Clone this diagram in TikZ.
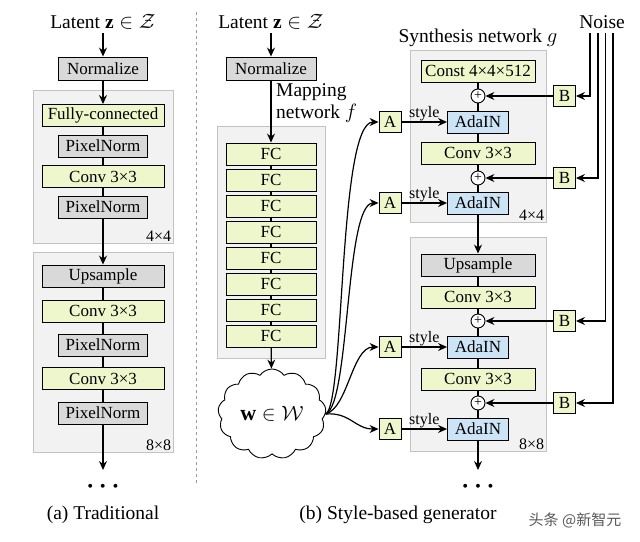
\documentclass[tikz,border=0pt]{standalone}
\usepackage{fontspec}
\setmainfont{Liberation Serif}
\newfontfamily\cjk{Noto Sans CJK SC}
\usetikzlibrary{arrows.meta,shapes.symbols}
\definecolor{boxgreen}{RGB}{238,246,204}
\definecolor{boxgray}{RGB}{217,217,217}
\definecolor{boxblue}{RGB}{204,228,246}
\definecolor{blockfill}{RGB}{242,242,242}
\definecolor{blockline}{RGB}{195,195,195}
\begin{document}
\begin{tikzpicture}[x=1pt,y=-1pt,font=\fontsize{17}{21}\selectfont]
\tikzstyle{block} = [fill=blockfill,draw=blockline,line width=0.8,inner sep=0];
\tikzstyle{layer} = [fill=boxgreen,draw,line width=0.9,inner sep=0,minimum height=22];
\tikzstyle{norm} = [fill=boxgray,draw,line width=0.9,inner sep=0,minimum height=22];
\tikzstyle{ada} = [fill=boxblue,draw,line width=0.9,inner sep=0,minimum width=61,minimum height=22];
\tikzstyle{tiny} = [fill=boxgreen,draw,line width=0.9,inner sep=0,minimum width=22,minimum height=21];
\tikzstyle{add} = [circle,draw,fill=white,line width=0.9,inner sep=0,minimum size=14,font=\fontsize{14}{14}\selectfont];
\tikzstyle{res} = [font=\fontsize{16}{18}\selectfont,anchor=south east,inner sep=2];
\tikzstyle{lbl} = [font=\fontsize{16}{18}\selectfont,above,inner sep=0.5];
\tikzstyle{ttl} = [font=\fontsize{19.5}{22}\selectfont];
\tikzstyle{more} = [font=\fontsize{24}{24}\selectfont\boldmath];
\tikzstyle{arr} = [line width=1.2,-{Stealth[length=9pt,width=8pt,inset=3pt]}];
\tikzstyle{ln} = [line width=1.2];
\useasboundingbox (0,0) rectangle (640,541);

% (a) traditional
\node [ttl] (lat1) at (103,22) {Latent $\mathbf{z}\in\mathcal{Z}$};
\node [norm,minimum width=89,minimum height=23] (nrm1) at (103,68.5) {Normalize};
\node [block,minimum width=140,minimum height=153] (blk1) at (103,166.5) {};
\node [res] (res1) at (blk1.south east) {4×4};
\node [layer,minimum width=122] (fcl) at (103,115.5) {Fully-connected};
\node [norm,minimum width=89] (pn1) at (103,146) {PixelNorm};
\node [layer,minimum width=122] (cv1) at (103,176.5) {Conv 3×3};
\node [norm,minimum width=89] (pn2) at (103,207) {PixelNorm};
\node [block,minimum width=140,minimum height=200] (blk2) at (103,352) {};
\node [res] (res2) at (blk2.south east) {8×8};
\node [norm,minimum width=122] (up1) at (103,276) {Upsample};
\node [layer,minimum width=122] (cv2) at (103,311) {Conv 3×3};
\node [norm,minimum width=89] (pn3) at (103,345) {PixelNorm};
\node [layer,minimum width=122] (cv3) at (103,378.5) {Conv 3×3};
\node [norm,minimum width=89] (pn4) at (103,413) {PixelNorm};
\coordinate (end1) at (103,470);
\node [more] (dots1) at (103,487) {$\cdots$};
\node [ttl] (cap1) at (103,515) {(a) Traditional};

\draw [arr] (lat1) -- (nrm1);
\draw [arr] (nrm1) -- (fcl);
\draw [ln] (fcl) -- (pn1) -- (cv1) -- (pn2);
\draw [arr] (pn2) -- (up1);
\draw [ln] (up1) -- (cv2) -- (pn3) -- (cv3) -- (pn4);
\draw [arr] (pn4) -- (end1);

\draw [dashed,color=black!40,line width=0.8] (196,12) -- (196,485);

% (b) style-based generator, mapping network
\node [ttl] (lat2) at (271,22) {Latent $\mathbf{z}\in\mathcal{Z}$};
\node [norm,minimum width=90,minimum height=23] (nrm2) at (271,68.5) {Normalize};
\node [ttl,anchor=west,align=left,inner sep=0] (mapl) at (276,103) {Mapping\\network $f$};
\node [block,minimum width=108,minimum height=232] (blk3) at (271,242) {};
\node [layer,minimum width=90] (fc1) at (271,154) {FC};
\node [layer,minimum width=90] (fc2) at (271,180) {FC};
\node [layer,minimum width=90] (fc3) at (271,206) {FC};
\node [layer,minimum width=90] (fc4) at (271,232) {FC};
\node [layer,minimum width=90] (fc5) at (271,258) {FC};
\node [layer,minimum width=90] (fc6) at (271,284) {FC};
\node [layer,minimum width=90] (fc7) at (271,310) {FC};
\node [layer,minimum width=90] (fc8) at (271,336) {FC};
\node [cloud,draw,fill=white,line width=0.9,cloud puffs=13,cloud puff arc=110,cloud ignores aspect,minimum width=108,minimum height=90,font=\fontsize{22}{24}\selectfont] (w) at (272,414) {$\mathbf{w}\in\mathcal{W}$};

\draw [arr] (lat2) -- (nrm2);
\draw [arr] (nrm2) -- (fc1);
\draw [ln] (fc1) -- (fc2) -- (fc3) -- (fc4) -- (fc5) -- (fc6) -- (fc7) -- (fc8);
\draw [arr] (fc8) -- (w);

% synthesis network
\node [ttl] (synl) at (478,38) {Synthesis network $g$};
\node [block,minimum width=136,minimum height=172] (blk4) at (478,136) {};
\node [res] (res3) at (blk4.south east) {4×4};
\node [layer,minimum width=114] (cst) at (478,71) {Const 4×4×512};
\node [add] (add1) at (478,96) {+};
\node [ada] (ada1) at (478,122) {AdaIN};
\node [layer,minimum width=114] (cv4) at (478,153) {Conv 3×3};
\node [add] (add2) at (478,178) {+};
\node [ada] (ada2) at (478,203) {AdaIN};
\node [block,minimum width=136,minimum height=214] (blk5) at (478,344) {};
\node [res] (res4) at (blk5.south east) {8×8};
\node [norm,minimum width=114] (up2) at (478,265) {Upsample};
\node [layer,minimum width=114] (cv5) at (478,297) {Conv 3×3};
\node [add] (add3) at (478,321) {+};
\node [ada] (ada3) at (478,347) {AdaIN};
\node [layer,minimum width=114] (cv6) at (478,379) {Conv 3×3};
\node [add] (add4) at (478,403) {+};
\node [ada] (ada4) at (478,429) {AdaIN};
\coordinate (end2) at (478,470);
\node [more] (dots2) at (478,487) {$\cdots$};
\node [ttl] (cap2) at (398,515) {(b) Style-based generator};

\draw [ln] (cst) -- (add1) -- (ada1) -- (cv4) -- (add2) -- (ada2);
\draw [arr] (ada2) -- (up2);
\draw [ln] (up2) -- (cv5) -- (add3) -- (ada3) -- (cv6) -- (add4) -- (ada4);
\draw [arr] (ada4) -- (end2);

% styles A
\node [tiny] (a1) at (390,122) {A};
\node [tiny] (a2) at (390,203) {A};
\node [tiny] (a3) at (390,347) {A};
\node [tiny] (a4) at (390,429) {A};
\draw [arr] (w.east) .. controls (345,405) and (338,122) .. (a1.west);
\draw [arr] (w.east) .. controls (350,405) and (345,203) .. (a2.west);
\draw [arr] (w.east) .. controls (348,408) and (352,347) .. (a3.west);
\draw [arr] (w.east) .. controls (350,412) and (355,429) .. (a4.west);
\draw [arr] (a1) -- node [lbl] {style} (ada1);
\draw [arr] (a2) -- node [lbl] {style} (ada2);
\draw [arr] (a3) -- node [lbl] {style} (ada3);
\draw [arr] (a4) -- node [lbl] {style} (ada4);

% noise B
\node [ttl] (noise) at (602,22) {Noise};
\coordinate (n1) at (590,33);
\coordinate (n2) at (598,33);
\coordinate (n3) at (605.5,33);
\coordinate (n4) at (613,33);
\node [tiny] (b1) at (564.5,96) {B};
\node [tiny] (b2) at (564.5,178) {B};
\node [tiny] (b3) at (564.5,321) {B};
\node [tiny] (b4) at (564.5,403) {B};
\draw [arr] (n1) |- (b1);
\draw [arr] (n2) |- (b2);
\draw [arr] (n3) |- (b3);
\draw [arr] (n4) |- (b4);
\draw [arr] (b1) -- (add1);
\draw [arr] (b2) -- (add2);
\draw [arr] (b3) -- (add3);
\draw [arr] (b4) -- (add4);

\node [font=\cjk\fontsize{15}{18}\selectfont,text=black!65] (mark) at (575,520) {头条 @新智元};
\end{tikzpicture}
\end{document}
